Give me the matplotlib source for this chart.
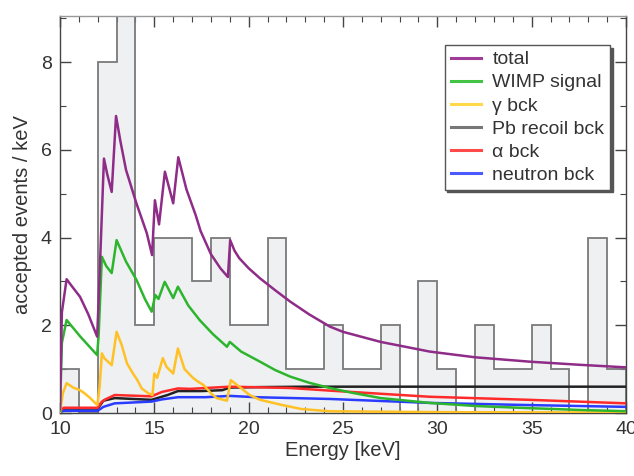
import matplotlib
matplotlib.use('Agg')
import numpy as np
import matplotlib.pyplot as plt
from matplotlib.ticker import MultipleLocator

plt.rcParams['font.family'] = ['Liberation Sans', 'DejaVu Sans']

# observed events per 1 keV bin, 10..40 keV
bin_edges = np.arange(10, 41)
counts = [1, 0, 8, 10, 2, 4, 4, 3, 4, 2, 2, 4, 1, 1, 2, 1, 1, 2, 0, 3,
          1, 0, 2, 1, 1, 2, 1, 0, 4, 1]

total_e = [10.0, 10.1, 10.35, 10.7, 11.06, 11.5, 11.97, 12.05, 12.33, 12.5, 12.74,
           12.97, 13.2, 13.5, 14.05, 14.6, 14.88, 15.03, 15.25, 15.56, 16.0, 16.27,
           16.7, 17.2, 17.45, 18.0, 18.5, 18.9, 19.02, 19.25, 19.5, 20.0, 20.6, 21.4,
           22.2, 23.2, 24.3, 25.0, 27.0, 29.6, 32.0, 34.9, 37.5, 40.0]
total_v = [0.1, 2.3, 3.05, 2.85, 2.65, 2.25, 1.74, 2.6, 5.8, 5.45, 5.04,
           6.77, 6.2, 5.54, 4.78, 4.1, 3.6, 4.85, 4.3, 5.5, 4.78, 5.83,
           5.1, 4.5, 4.15, 3.62, 3.3, 3.1, 3.94, 3.7, 3.53, 3.3, 3.07, 2.8,
           2.54, 2.25, 1.97, 1.85, 1.62, 1.4, 1.27, 1.17, 1.1, 1.04]

wimp_e = [10.0, 10.1, 10.35, 11.06, 11.97, 12.05, 12.22, 12.45, 12.74, 13.0, 13.5,
          14.06, 14.5, 14.86, 15.05, 15.22, 15.55, 16.0, 16.25, 16.8, 17.4, 18.1,
          18.85, 19.0, 19.6, 20.6, 21.4, 22.2, 23.2, 24.3, 25.5, 27.0, 29.6, 32.0,
          34.9, 37.5, 40.0]
wimp_v = [0.05, 1.6, 2.12, 1.75, 1.32, 1.8, 3.56, 3.35, 3.19, 3.94, 3.45,
          3.03, 2.6, 2.31, 2.69, 2.6, 2.99, 2.62, 2.88, 2.45, 2.12, 1.8,
          1.51, 1.62, 1.4, 1.17, 0.98, 0.83, 0.69, 0.57, 0.46, 0.34, 0.23, 0.16,
          0.11, 0.07, 0.04]

gamma_e = [10.0, 10.15, 10.35, 10.7, 11.06, 11.3, 11.6, 11.98, 12.1, 12.22, 12.35,
           12.47, 12.74, 13.0, 13.27, 13.55, 13.87, 14.1, 14.33, 14.68, 14.9, 15.0,
           15.15, 15.45, 15.65, 16.0, 16.25, 16.6, 17.05, 17.3, 17.6, 18.0, 18.3,
           18.85, 19.05, 19.5, 20.05, 20.6, 21.2, 21.8, 22.8, 24.3, 27.0, 30.0,
           35.0, 40.0]
gamma_v = [0.0, 0.45, 0.68, 0.58, 0.52, 0.45, 0.34, 0.18, 0.6, 1.36, 1.25,
           1.2, 1.09, 1.85, 1.55, 1.13, 0.9, 0.75, 0.56, 0.45, 0.41, 0.9,
           0.8, 1.25, 1.05, 0.9, 1.47, 1.0, 0.8, 0.72, 0.64, 0.45, 0.34,
           0.28, 0.75, 0.6, 0.41, 0.3, 0.24, 0.18, 0.09, 0.04, 0.03, 0.02,
           0.015, 0.01]

pb_e = [10.0, 10.2, 12.0, 12.3, 12.9, 14.85, 15.7, 16.25, 17.5, 18.6, 19.0, 20.5, 23.1, 40.0]
pb_v = [0.05, 0.1, 0.1, 0.28, 0.34, 0.3, 0.41, 0.5, 0.5, 0.52, 0.58, 0.59, 0.6, 0.6]

alpha_e = [10.0, 10.2, 12.0, 12.2, 12.4, 12.9, 14.85, 15.4, 16.25, 16.9, 19.0, 22.2,
           24.3, 29.6, 34.9, 40.0]
alpha_v = [0.05, 0.12, 0.12, 0.25, 0.31, 0.41, 0.38, 0.48, 0.56, 0.55, 0.6, 0.57,
           0.51, 0.37, 0.3, 0.22]

neutron_e = [10.0, 10.2, 12.0, 12.3, 12.9, 14.85, 15.4, 16.25, 17.7, 19.0, 20.4,
             24.3, 29.6, 34.9, 40.0]
neutron_v = [0.02, 0.05, 0.05, 0.14, 0.22, 0.26, 0.31, 0.36, 0.36, 0.39, 0.36,
             0.32, 0.23, 0.18, 0.14]

fig = plt.figure(figsize=(6.34, 4.76), dpi=100)
ax = fig.add_axes([60 / 634, 63 / 476, 566 / 634, 397 / 476])

# histogram of accepted events
ax.stairs(counts, bin_edges, fill=True, color='#EEF0F2', zorder=1)
ax.stairs(counts, bin_edges, color='#7a7a7a', linewidth=1.3, zorder=2)

lw = 1.8
ax.plot(pb_e, pb_v, color='#222222', lw=lw, zorder=3)
ax.plot(neutron_e, neutron_v, color='#2A3CFF', lw=lw, zorder=3)
ax.plot(alpha_e, alpha_v, color='#FF2A2A', lw=lw, zorder=4)
ax.plot(gamma_e, gamma_v, color='#FFC125', lw=lw, zorder=4)
ax.plot(wimp_e, wimp_v, color='#2DB52D', lw=lw, zorder=5)
ax.plot(total_e, total_v, color='#8E2C88', lw=lw, zorder=6)

# legend handles
handles = [
    plt.Line2D([], [], color='#9E3C98', lw=2.2),
    plt.Line2D([], [], color='#44C444', lw=2.2),
    plt.Line2D([], [], color='#FFD94A', lw=2.2),
    plt.Line2D([], [], color='#777777', lw=2.2),
    plt.Line2D([], [], color='#FF4A4A', lw=2.2),
    plt.Line2D([], [], color='#4A5AFF', lw=2.2),
]
labels = ['total', 'WIMP signal', 'γ bck', 'Pb recoil bck', 'α bck', 'neutron bck']
leg = ax.legend(handles, labels, loc='upper right', bbox_to_anchor=(0.972, 0.927),
                borderaxespad=0, fontsize=14, labelspacing=0.28, handlelength=1.55,
                handletextpad=0.6, borderpad=0.3, fancybox=False, framealpha=1,
                edgecolor='#555555', shadow={'color': '#555555', 'alpha': 1.0})
leg.get_frame().set_linewidth(1.0)
for t in leg.get_texts():
    t.set_color('#333333')

ax.set_xlim(10, 40)
ax.set_ylim(0, 9.05)
ax.xaxis.set_major_locator(MultipleLocator(5))
ax.xaxis.set_minor_locator(MultipleLocator(1))
ax.yaxis.set_major_locator(MultipleLocator(2))
ax.yaxis.set_minor_locator(MultipleLocator(1))
ax.tick_params(which='both', direction='in', top=True, right=True,
               labelsize=14, labelcolor='#333333', color='#444444')
ax.tick_params(which='major', length=8, width=1.0, pad=6)
ax.tick_params(which='minor', length=4, width=0.8)
for s in ax.spines.values():
    s.set_color('#444444')
    s.set_linewidth(1.0)
ax.spines['top'].set_color('#999999')

ax.set_xlabel('Energy [keV]', fontsize=14.5, color='#333333', labelpad=2)
ax.set_ylabel('accepted events / keV', fontsize=14.5, color='#333333', labelpad=6)

fig.savefig('out.png', dpi=100, facecolor='white')
